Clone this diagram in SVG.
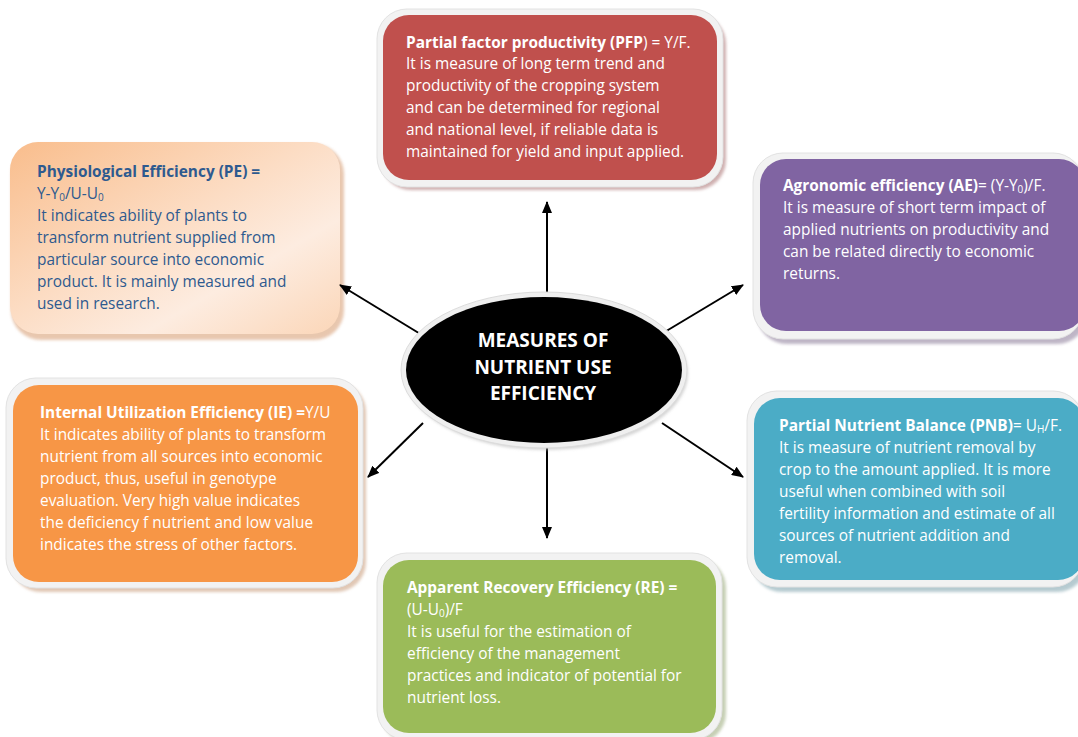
<svg xmlns="http://www.w3.org/2000/svg" width="1078" height="737" viewBox="0 0 1078 737">
  <defs>
    <style>
      .frame { fill: #f2f2f2; stroke: #e2e2e2; stroke-width: 1; }
      .t { font-family: "Open Sans", Lato, "Liberation Sans", sans-serif; font-size: 15.4px; fill: #ffffff; }
      .t .b { font-weight: bold; }
      .blue { fill: #2e5a8f; }
      .hub { font-family: "Open Sans", Lato, "Liberation Sans", sans-serif; font-size: 19px; font-weight: bold; fill: #ffffff; text-anchor: middle; }
      .conn line { stroke: #000000; stroke-width: 2; marker-end: url(#head); }
    </style>
    <marker id="head" viewBox="0 0 12 10" refX="11" refY="5" markerWidth="12" markerHeight="10" markerUnits="userSpaceOnUse" orient="auto">
      <path d="M0,0 L12,5 L0,10 Z" fill="#000000"/>
    </marker>
    <linearGradient id="peFill" x1="0" y1="0" x2="1" y2="1">
      <stop offset="0" stop-color="#f9bd8c"/>
      <stop offset="0.45" stop-color="#fcdcc3"/>
      <stop offset="0.7" stop-color="#fdece0"/>
      <stop offset="1" stop-color="#fbd6b8"/>
    </linearGradient>
    <filter id="soft" x="-5%" y="-5%" width="115%" height="115%">
      <feGaussianBlur stdDeviation="1.5"/>
    </filter>
  </defs>

  <rect width="1078" height="737" fill="#ffffff"/>

  <!-- Partial factor productivity -->
  <g id="pfp">
    <rect x="381" y="14" width="345" height="176" rx="30" fill="#a87070" opacity="0.55" filter="url(#soft)"/>
    <rect class="frame" x="377" y="9" width="346" height="178" rx="30"/>
    <rect x="383" y="15" width="334" height="165" rx="26" fill="#c0504d"/>
    <text class="t" x="406" y="48"><tspan class="b">Partial factor productivity (PFP</tspan>) = Y/F.</text>
    <text class="t" x="406" y="69">It is measure of long term trend and</text>
    <text class="t" x="406" y="91">productivity of the cropping system</text>
    <text class="t" x="406" y="113">and can be determined for regional</text>
    <text class="t" x="406" y="135">and national level, if reliable data is</text>
    <text class="t" x="406" y="157">maintained for yield and input applied.</text>
  </g>

  <!-- Physiological efficiency -->
  <g id="pe">
    <rect x="11" y="144" width="333" height="196" rx="30" fill="#d9a27a" opacity="0.6" filter="url(#soft)"/>
    <rect x="10" y="142" width="330" height="192" rx="28" fill="url(#peFill)"/>
    <text class="t blue" x="37" y="177"><tspan class="b">Physiological Efficiency (PE) =</tspan></text>
    <text class="t blue" x="37" y="199">Y-Y<tspan font-size="10" dy="2">0</tspan><tspan dy="-2">/U-U</tspan><tspan font-size="10" dy="2">0</tspan></text>
    <text class="t blue" x="37" y="221">It indicates ability of plants to</text>
    <text class="t blue" x="37" y="243">transform nutrient supplied from</text>
    <text class="t blue" x="37" y="265">particular source into economic</text>
    <text class="t blue" x="37" y="287">product. It is mainly measured and</text>
    <text class="t blue" x="37" y="309">used in research.</text>
  </g>

  <!-- Agronomic efficiency -->
  <g id="ae">
    <rect x="757" y="158" width="330" height="186" rx="30" fill="#8a7a98" opacity="0.55" filter="url(#soft)"/>
    <rect class="frame" x="753" y="153" width="330" height="186" rx="30"/>
    <rect x="760" y="159" width="325" height="172" rx="26" fill="#8064a2"/>
    <text class="t" x="783" y="191"><tspan class="b">Agronomic efficiency (AE)</tspan>= (Y-Y<tspan font-size="10" dy="2">0</tspan><tspan dy="-2">)/F.</tspan></text>
    <text class="t" x="783" y="213">It is measure of short term impact of</text>
    <text class="t" x="783" y="235">applied nutrients on productivity and</text>
    <text class="t" x="783" y="257">can be related directly to economic</text>
    <text class="t" x="783" y="279">returns.</text>
  </g>

  <!-- Internal utilization efficiency -->
  <g id="ie">
    <rect x="11" y="382" width="355" height="210" rx="30" fill="#c89a78" opacity="0.55" filter="url(#soft)"/>
    <rect class="frame" x="6" y="378" width="357" height="210" rx="30"/>
    <rect x="13" y="385" width="345" height="197" rx="26" fill="#f79646"/>
    <text class="t" x="40" y="418"><tspan class="b">Internal Utilization Efficiency (IE) =</tspan>Y/U</text>
    <text class="t" x="40" y="440">It indicates ability of plants to transform</text>
    <text class="t" x="40" y="462">nutrient from all sources into economic</text>
    <text class="t" x="40" y="484">product, thus, useful in genotype</text>
    <text class="t" x="40" y="506">evaluation. Very high value indicates</text>
    <text class="t" x="40" y="528">the deficiency f nutrient and low value</text>
    <text class="t" x="40" y="550">indicates the stress of other factors.</text>
  </g>

  <!-- Partial nutrient balance -->
  <g id="pnb">
    <rect x="752" y="396" width="335" height="196" rx="30" fill="#7aa0aa" opacity="0.55" filter="url(#soft)"/>
    <rect class="frame" x="747" y="391" width="336" height="196" rx="30"/>
    <rect x="754" y="398" width="330" height="182" rx="26" fill="#4bacc6"/>
    <text class="t" x="779" y="431"><tspan class="b">Partial Nutrient Balance (PNB)</tspan>= U<tspan font-size="10" dy="2">H</tspan><tspan dy="-2">/F.</tspan></text>
    <text class="t" x="779" y="453">It is measure of nutrient removal by</text>
    <text class="t" x="779" y="475">crop to the amount applied. It is more</text>
    <text class="t" x="779" y="497">useful when combined with soil</text>
    <text class="t" x="779" y="519">fertility information and estimate of all</text>
    <text class="t" x="779" y="541">sources of nutrient addition and</text>
    <text class="t" x="779" y="563">removal.</text>
  </g>

  <!-- Apparent recovery efficiency -->
  <g id="re">
    <rect x="381" y="558" width="345" height="185" rx="30" fill="#98a878" opacity="0.55" filter="url(#soft)"/>
    <rect class="frame" x="377" y="553" width="345" height="187" rx="30"/>
    <rect x="383" y="560" width="333" height="173" rx="26" fill="#9bbb59"/>
    <text class="t" x="407" y="593"><tspan class="b">Apparent Recovery Efficiency (RE) =</tspan></text>
    <text class="t" x="407" y="615">(U-U<tspan font-size="10" dy="2">0</tspan><tspan dy="-2">)/F</tspan></text>
    <text class="t" x="407" y="637">It is useful for the estimation of</text>
    <text class="t" x="407" y="659">efficiency of the management</text>
    <text class="t" x="407" y="681">practices and indicator of potential for</text>
    <text class="t" x="407" y="703">nutrient loss.</text>
  </g>

  <!-- Connectors from the hub -->
  <g id="connectors" class="conn">
    <line x1="547" y1="297" x2="547" y2="202"/>
    <line x1="422" y1="335" x2="340" y2="285"/>
    <line x1="663" y1="333" x2="743" y2="285"/>
    <line x1="423" y1="423" x2="368" y2="477"/>
    <line x1="662" y1="423" x2="743" y2="477"/>
    <line x1="547" y1="443" x2="547" y2="538"/>
  </g>

  <!-- Central hub -->
  <g id="hub">
    <ellipse cx="546" cy="373" rx="142" ry="77" fill="#b9b9b9" opacity="0.6" filter="url(#soft)"/>
    <ellipse cx="544" cy="370" rx="143" ry="78" fill="#efefef" stroke="#dcdcdc" stroke-width="1"/>
    <ellipse cx="544" cy="370" rx="138" ry="73" fill="#000000"/>
    <text class="hub" x="543" y="347">MEASURES OF</text>
    <text class="hub" x="543" y="374">NUTRIENT USE</text>
    <text class="hub" x="543" y="400">EFFICIENCY</text>
  </g>
</svg>
